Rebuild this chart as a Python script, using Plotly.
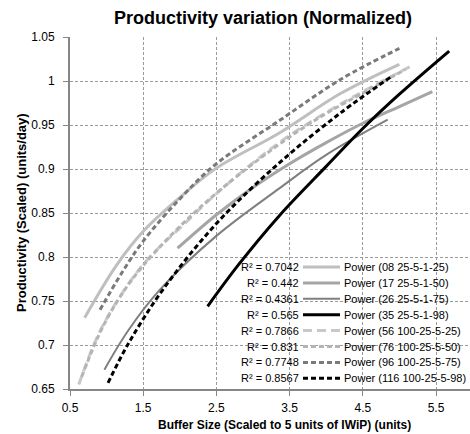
import plotly.graph_objects as go

# ---------------- data ----------------
names = ["Power (08 25-5-1-25)", "Power (17 25-5-1-50)", "Power (26 25-5-1-75)",
         "Power (35 25-5-1-98)", "Power (56 100-25-5-25)", "Power (76 100-25-5-50)",
         "Power (96 100-25-5-75)", "Power (116 100-25-5-98)"]
r2_labels = ["R² = 0.7042", "R² = 0.442", "R² = 0.4361", "R² = 0.565",
             "R² = 0.7866", "R² = 0.831", "R² = 0.7748", "R² = 0.8567"]

x_08 = [0.70, 1.13, 1.51, 1.95, 2.50, 3.36, 4.20, 5.00]
y_08 = [0.731, 0.790, 0.830, 0.864, 0.901, 0.941, 0.986, 1.019]

x_17 = [1.97, 2.50, 3.00, 3.50, 4.00, 4.50, 5.00, 5.45]
y_17 = [0.810, 0.848, 0.879, 0.906, 0.930, 0.952, 0.971, 0.988]

x_26 = [0.97, 1.30, 1.72, 2.50, 3.36, 4.00, 4.84]
y_26 = [0.672, 0.717, 0.762, 0.824, 0.878, 0.916, 0.956]

x_35 = [2.38, 2.80, 3.36, 4.00, 4.50, 5.00, 5.68]
y_35 = [0.744, 0.791, 0.847, 0.903, 0.946, 0.985, 1.034]

x_56 = [0.62, 0.90, 1.27, 1.59, 2.04, 2.50, 3.36, 4.20, 5.14]
y_56 = [0.655, 0.714, 0.766, 0.800, 0.836, 0.872, 0.930, 0.974, 1.016]

x_76 = [0.66, 0.95, 1.30, 1.70, 2.30, 3.00, 3.80, 4.60, 5.08]
y_76 = [0.664, 0.721, 0.769, 0.809, 0.858, 0.906, 0.953, 0.991, 1.013]

x_96 = [0.91, 1.20, 1.50, 2.00, 2.50, 3.36, 4.20, 5.00]
y_96 = [0.740, 0.781, 0.818, 0.866, 0.906, 0.955, 1.002, 1.037]

x_116 = [1.02, 1.30, 1.77, 2.50, 3.36, 4.20, 4.89]
y_116 = [0.657, 0.702, 0.763, 0.838, 0.907, 0.964, 1.005]

xs = [x_08, x_17, x_26, x_35, x_56, x_76, x_96, x_116]
ys = [y_08, y_17, y_26, y_35, y_56, y_76, y_96, y_116]

# ---------------- styles ----------------
colors = ["#bfbfbf", "#a5a5a5", "#7f7f7f", "#000000",
          "#c8c8c8", "#b4b4b4", "#7a7a7a", "#000000"]
widths = [3, 3, 2, 3, 3, 3, 3, 3]
dashes = ["solid", "solid", "solid", "solid",
          "9px,5px", "5px,3px", "5px,3px", "5px,3px"]

FONT = "Liberation Sans, Arial, sans-serif"

W, H = 470, 434
L, R, T, B = 70, 0, 37, 45
pw, ph = W - L - R, H - T - B


def px_x(px):
    return (px - L) / pw


def px_y(py):
    return (H - B - py) / ph


fig = go.Figure()
for i in range(len(names)):
    fig.add_trace(go.Scatter(
        x=xs[i], y=ys[i], mode="lines", name=names[i], showlegend=False,
        line=dict(color=colors[i], width=widths[i], dash=dashes[i], shape="spline"),
    ))

# manual legend (R² text, sample line, series name), as laid out in the reference
shapes = []
annotations = []
row0, step = 267, 15.9
for i in range(len(names)):
    yy = px_y(row0 + i * step)
    annotations.append(dict(xref="paper", yref="paper", x=px_x(301), y=yy,
                            text=r2_labels[i], showarrow=False, xanchor="right",
                            yanchor="middle", font=dict(family=FONT, size=11, color="#000")))
    annotations.append(dict(xref="paper", yref="paper", x=px_x(342), y=yy,
                            text=names[i], showarrow=False, xanchor="left",
                            yanchor="middle", font=dict(family=FONT, size=11, color="#000")))
    shapes.append(dict(type="line", xref="paper", yref="paper",
                       x0=px_x(303), x1=px_x(340), y0=yy, y1=yy,
                       line=dict(color=colors[i], width=widths[i], dash=dashes[i])))

# axis titles
annotations.append(dict(xref="paper", yref="paper", x=px_x(284), y=px_y(425),
                        text="<b>Buffer Size (Scaled to 5 units of IWiP) (units)</b>",
                        showarrow=False, xanchor="center", yanchor="middle",
                        font=dict(family=FONT, size=12, color="#000")))
annotations.append(dict(xref="paper", yref="paper", x=px_x(21), y=px_y(213),
                        text="<b>Productivity (Scaled) (units/day)</b>", textangle=-90,
                        showarrow=False, xanchor="center", yanchor="middle",
                        font=dict(family=FONT, size=13, color="#000")))

grid = dict(showgrid=True, gridcolor="#9a9a9a", gridwidth=1, griddash="3px,2px")

fig.update_layout(
    width=W, height=H,
    margin=dict(l=L, r=R, t=T, b=B),
    paper_bgcolor="white", plot_bgcolor="white",
    title=dict(text="<b>Productivity variation (Normalized)</b>",
               x=263 / W, xanchor="center", y=1 - 18 / H, yanchor="middle",
               font=dict(family=FONT, size=18, color="#000")),
    xaxis=dict(range=[0.5, 0.5 + pw / 73.2], tick0=0.5, dtick=1, **grid,
               showline=True, linecolor="#868686", linewidth=2,
               ticks="outside", ticklen=5, tickcolor="#868686", tickwidth=1,
               zeroline=False, tickfont=dict(family=FONT, size=12, color="#000"),
               ticklabelstandoff=2),
    yaxis=dict(range=[0.65, 1.05], tick0=0.65, dtick=0.05, **grid,
               showline=True, linecolor="#868686", linewidth=2,
               ticks="outside", ticklen=5, tickcolor="#868686", tickwidth=1,
               zeroline=False, tickfont=dict(family=FONT, size=12, color="#000"),
               ticklabelstandoff=6),
    shapes=shapes, annotations=annotations,
)

fig.write_html(
    "out.html",
    config={"displayModeBar": False},
    post_script="document.body.style.margin='0';document.body.style.overflow='hidden';",
)
